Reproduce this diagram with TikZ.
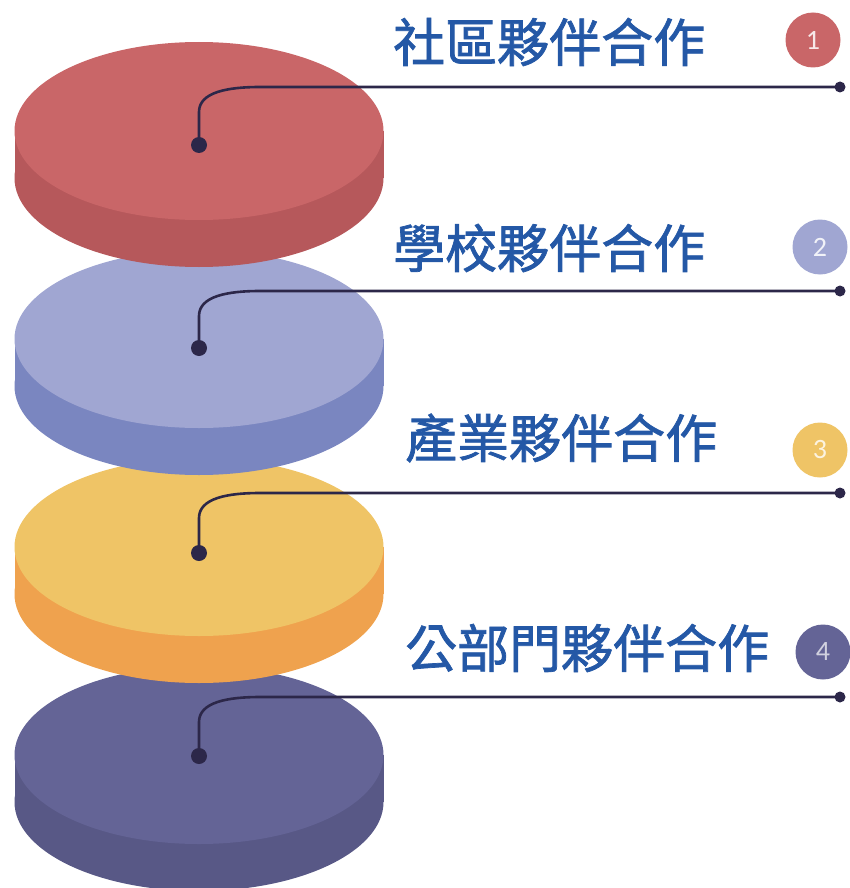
\documentclass[tikz,border=0pt]{standalone}
\usepackage{fontspec}
\newfontfamily\cjk{Noto Sans CJK TC}[FakeBold=1.4]
\newfontfamily\numfont{Carlito}

\definecolor{redtop}{HTML}{C96668}
\definecolor{redside}{HTML}{B6585B}
\definecolor{lilactop}{HTML}{A0A6D2}
\definecolor{lilacside}{HTML}{7A86C0}
\definecolor{yellowtop}{HTML}{EFC466}
\definecolor{yellowside}{HTML}{EFA24E}
\definecolor{navytop}{HTML}{646496}
\definecolor{navyside}{HTML}{585886}
\definecolor{linkcol}{HTML}{2C2749}
\definecolor{titleblue}{HTML}{2458A6}

\begin{document}
\begin{tikzpicture}[x=1pt,y=-1pt,
    link/.style={linkcol, line width=2.6pt},
    dot/.style={circle, fill=linkcol, inner sep=0pt, minimum size=16pt},
    enddot/.style={circle, fill=linkcol, inner sep=0pt, minimum size=11pt},
    title/.style={anchor=west, inner sep=0pt, text=titleblue, font=\cjk\fontsize{52}{52}\selectfont},
    numcircle/.style={circle, inner sep=0pt, minimum size=55pt, font=\numfont\fontsize{28}{28}\selectfont}]
    \useasboundingbox (0,0) rectangle (849,888);

      % disc 4
      \fill[navyside] (199,802) ellipse [x radius=184.5, y radius=89];
      \fill[navyside] (14.5,755) rectangle (383.5,802);
      \fill[navytop] (199,755) ellipse [x radius=184.5, y radius=89];

      % disc 3
      \fill[yellowside] (199,594) ellipse [x radius=184.5, y radius=89];
      \fill[yellowside] (14.5,547) rectangle (383.5,594);
      \fill[yellowtop] (199,547) ellipse [x radius=184.5, y radius=89];

      % disc 2
      \fill[lilacside] (199,386) ellipse [x radius=184.5, y radius=89];
      \fill[lilacside] (14.5,339) rectangle (383.5,386);
      \fill[lilactop] (199,339) ellipse [x radius=184.5, y radius=89];

      % disc 1
      \fill[redside] (199,178) ellipse [x radius=184.5, y radius=89];
      \fill[redside] (14.5,131) rectangle (383.5,178);
      \fill[redtop] (199,131) ellipse [x radius=184.5, y radius=89];

      % connectors
      \node[dot] (d1) at (199,145) {};
      \node[enddot] (e1) at (840,87) {};
      \draw[link] (d1.center) -- ++(0,-33) .. controls +(0,-20) and +(-32,0) .. ++(61,-25) -- (e1.center);

      \node[dot] (d2) at (199,348) {};
      \node[enddot] (e2) at (840,291) {};
      \draw[link] (d2.center) -- ++(0,-32) .. controls +(0,-20) and +(-32,0) .. ++(61,-25) -- (e2.center);

      \node[dot] (d3) at (199,553) {};
      \node[enddot] (e3) at (840,493) {};
      \draw[link] (d3.center) -- ++(0,-35) .. controls +(0,-20) and +(-32,0) .. ++(61,-25) -- (e3.center);

      \node[dot] (d4) at (199,756) {};
      \node[enddot] (e4) at (840,697) {};
      \draw[link] (d4.center) -- ++(0,-34) .. controls +(0,-20) and +(-32,0) .. ++(61,-25) -- (e4.center);

      % titles
      \node[title] (t1) at (393,42) {社區夥伴合作};
      \node[title] (t2) at (393,248) {學校夥伴合作};
      \node[title] (t3) at (405,438) {產業夥伴合作};
      \node[title] (t4) at (405,648) {公部門夥伴合作};

      % numbers
      \node[numcircle, fill=redtop, text=white!85!redtop] (n1) at (813,40) {1};
      \node[numcircle, fill=lilactop, text=white!85!lilactop] (n2) at (820,247) {2};
      \node[numcircle, fill=yellowtop, text=white!80!yellowtop] (n3) at (820,450) {3};
      \node[numcircle, fill=navytop, text=white!70!navytop] (n4) at (823,652) {4};
  \end{tikzpicture}
\end{document}
